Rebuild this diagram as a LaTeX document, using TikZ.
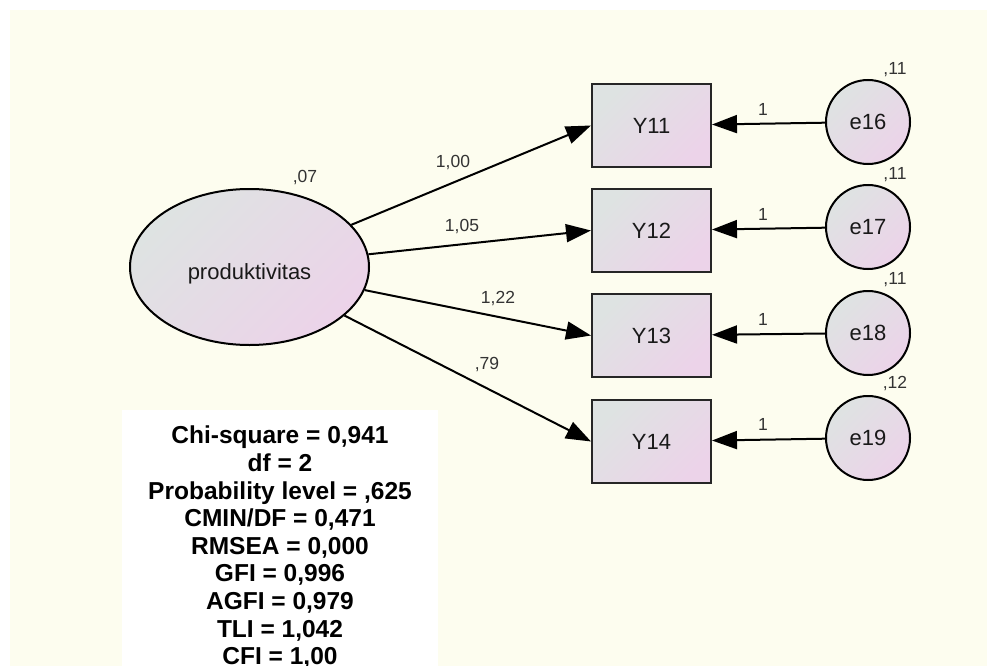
\documentclass[tikz,border=0pt]{standalone}
\usepackage{fontspec}
\setmainfont{Liberation Sans}
\usetikzlibrary{shapes.geometric,arrows.meta}

\definecolor{canvas}{RGB}{253,253,239}
\definecolor{fillA}{RGB}{222,227,226}
\definecolor{fillB}{RGB}{236,211,233}

\tikzset{
  varfill/.style={top color=fillA, bottom color=fillB, shading angle=45},
  nodetext/.style={font=\fontsize{22}{26}\selectfont, text=black!90},
  latent/.style={ellipse, draw, line width=2pt, varfill, inner sep=0pt,
    minimum width=239pt, minimum height=156pt, nodetext,
    text height=24pt, text depth=0pt},
  observed/.style={rectangle, draw=black!85, line width=2pt, varfill,
    minimum width=119pt, minimum height=83pt, inner sep=0pt, nodetext},
  errvar/.style={circle, draw, line width=2pt, varfill,
    minimum size=84pt, inner sep=0pt, nodetext},
  regpath/.style={line width=2pt, -{Triangle[length=25pt,width=18pt]}},
  est/.style={inner sep=0pt, text=black!80, font=\fontsize{17.5}{20}\selectfont},
  fitstats/.style={inner sep=0pt, align=center, anchor=north,
    font=\bfseries\fontsize{24.5}{27.6}\selectfont}
}

\begin{document}
\begin{tikzpicture}[x=1pt, y=-1pt]
  \useasboundingbox (0,0) rectangle (987,666);
  % canvas and fit statistics panel
  \fill[white] (0,0) rectangle (987,666);
  \fill[canvas] (10,10) rectangle (987,666);
  \fill[white] (122,410) rectangle (438,666);

  % latent factor
  \node[latent] (prod) at (249.5,267) {produktivitas};
  \node[est] (vprod) at (305,178) {,07};

  % indicators
  \node[observed] (Y11) at (651.5,125.5) {Y11};
  \node[observed] (Y12) at (651.5,230.5) {Y12};
  \node[observed] (Y13) at (651.5,335.5) {Y13};
  \node[observed] (Y14) at (651.5,441.5) {Y14};

  % error terms
  \node[errvar] (e16) at (868,122) {e16};
  \node[errvar] (e17) at (868,227) {e17};
  \node[errvar] (e18) at (868,333) {e18};
  \node[errvar] (e19) at (868,438) {e19};

  \node[est] (v16) at (895,70) {,11};
  \node[est] (v17) at (895,175) {,11};
  \node[est] (v18) at (895,280) {,11};
  \node[est] (v19) at (895,384) {,12};

  % loadings
  \draw[regpath] (prod) -- (Y11.west);
  \draw[regpath] (prod) -- (Y12.west);
  \draw[regpath] (prod) -- (Y13.west);
  \draw[regpath] (prod) -- (Y14.west);

  \node[est] (l11) at (453,163) {1,00};
  \node[est] (l12) at (462,227) {1,05};
  \node[est] (l13) at (498,299) {1,22};
  \node[est] (l14) at (487,365) {,79};

  % error paths
  \draw[regpath] (e16) -- (Y11);
  \draw[regpath] (e17) -- (Y12);
  \draw[regpath] (e18) -- (Y13);
  \draw[regpath] (e19) -- (Y14);

  \node[est] (f16) at (763,109) {1};
  \node[est] (f17) at (763,214) {1};
  \node[est] (f18) at (763,319) {1};
  \node[est] (f19) at (763,424) {1};

  % model fit summary
  \node[fitstats] (fit) at (280,426) {Chi-square = 0,941\\df = 2\\Probability level = ,625\\CMIN/DF = 0,471\\RMSEA = 0,000\\GFI = 0,996\\AGFI = 0,979\\TLI = 1,042\\CFI = 1,00};
\end{tikzpicture}
\end{document}
